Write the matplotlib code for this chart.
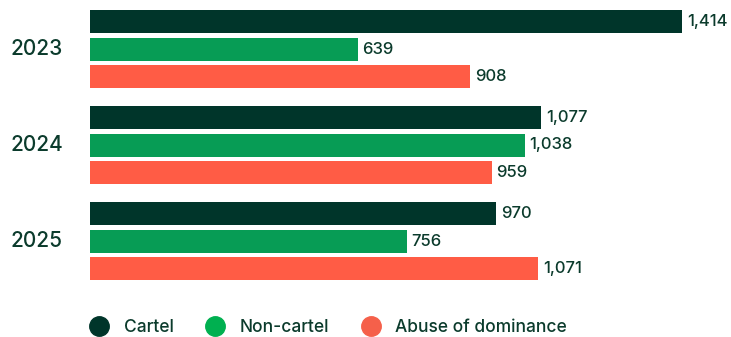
import matplotlib.pyplot as plt
from matplotlib.lines import Line2D
import numpy as np

years = ["2023", "2024", "2025"]
series = ["Cartel", "Non-cartel", "Abuse of dominance"]
cartel = [1414, 1077, 970]
non_cartel = [639, 1038, 756]
abuse = [908, 959, 1071]

bar_colors = ["#00352a", "#079c55", "#ff5c45"]
dot_colors = ["#00352a", "#00b050", "#f5604a"]
text_color = "#0b3b2c"

plt.rcParams["font.family"] = ["Inter", "DejaVu Sans"]

W, H = 731, 337
fig = plt.figure(figsize=(W / 100, H / 100), dpi=100)
left_px, bottom_px = 90, 290
ax = fig.add_axes([left_px / W, (H - bottom_px) / H, 1 - left_px / W, bottom_px / H])

# one row per bar, pixel-like units going downward
group_step, bar_step, bar_h, first = 96, 27.5, 23, 21.5
values = [cartel, non_cartel, abuse]
for g, year in enumerate(years):
    base = first + g * group_step
    for k, vals in enumerate(values):
        y = base + k * bar_step
        ax.barh(y, vals[g], height=bar_h, color=bar_colors[k])
        ax.text(vals[g] + 12, y, f"{vals[g]:,}", va="center", ha="left",
                fontsize=12, fontweight="medium", color=text_color)
    ax.text(-191, base + bar_step, year, va="center", ha="left",
            fontsize=15, fontweight="medium", color=text_color)

ax.set_xlim(0, (W - left_px) / 0.4187)
ax.set_ylim(bottom_px, 0)
ax.axis("off")

handles = [Line2D([], [], marker="o", linestyle="", markersize=14,
                  color=c) for c in dot_colors]
fig.legend(handles, series, loc="center left", bbox_to_anchor=(75 / W, 1 - 328 / H),
           ncol=3, frameon=False, labelcolor=text_color,
           handletextpad=0.9, columnspacing=1.9, handlelength=1.0,
           prop={"size": 12.5, "weight": "medium"})

fig.savefig("out.png", dpi=100)
